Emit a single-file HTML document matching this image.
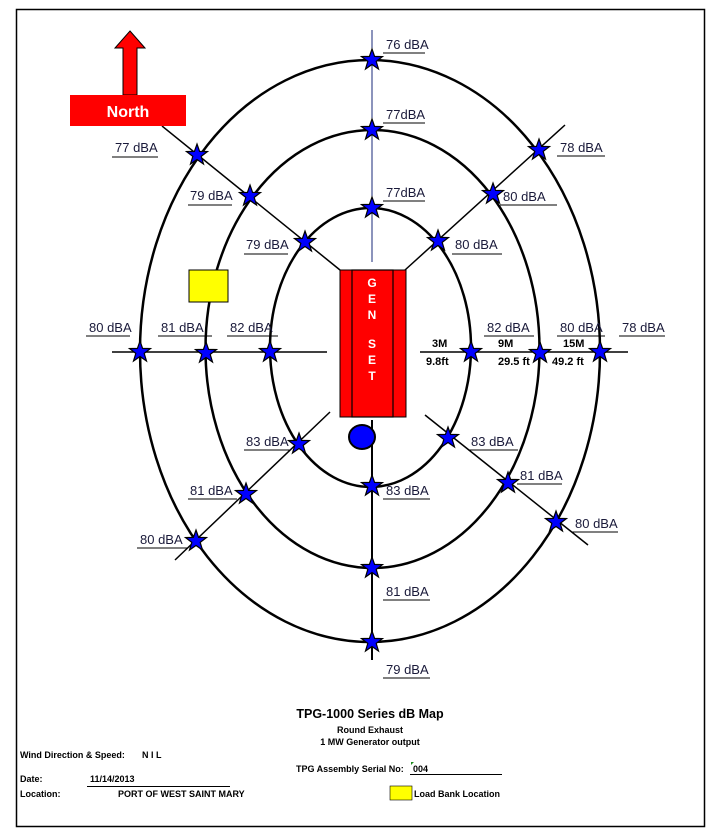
<!DOCTYPE html>
<html><head><meta charset="utf-8"><style>
html,body{margin:0;padding:0;background:#fff}
svg{display:block}
text{font-family:"Liberation Sans",sans-serif}
.l{font-size:13px;fill:#1a1a3a}
.b{font-weight:bold;font-size:11px;fill:#000}
.s{font-weight:bold;font-size:9px;fill:#000}
</style></head><body>
<svg width="722" height="839" viewBox="0 0 722 839" xmlns="http://www.w3.org/2000/svg">
<defs>
<polygon id="st" points="0,-11 2.6,-3.6 10.5,-3.4 4.2,1.4 6.5,9 0,4.5 -6.5,9 -4.2,1.4 -10.5,-3.4 -2.6,-3.6" fill="#0000ff" stroke="#000" stroke-width="1.2"/>
</defs>
<rect x="16.5" y="9.5" width="688" height="817" fill="none" stroke="#000" stroke-width="1.5"/>
<!-- lines -->
<line x1="372" y1="30" x2="372" y2="262" stroke="#1a2a7a" stroke-width="1"/>
<line x1="372" y1="420" x2="372" y2="660" stroke="#000" stroke-width="2"/>
<line x1="112" y1="352" x2="327" y2="352" stroke="#000" stroke-width="1.5"/>
<line x1="420" y1="352" x2="628" y2="352" stroke="#000" stroke-width="1.5"/>
<line x1="162" y1="126" x2="340" y2="270" stroke="#000" stroke-width="1.5"/>
<line x1="565" y1="125" x2="405" y2="270" stroke="#000" stroke-width="1.5"/>
<line x1="330" y1="412" x2="175" y2="560" stroke="#000" stroke-width="1.5"/>
<line x1="425" y1="415" x2="588" y2="545" stroke="#000" stroke-width="1.5"/>
<!-- ellipses -->
<ellipse cx="370" cy="351" rx="230" ry="291" fill="none" stroke="#000" stroke-width="2.5"/>
<ellipse cx="372.5" cy="349" rx="167" ry="219" fill="none" stroke="#000" stroke-width="2.5"/>
<ellipse cx="370.5" cy="347.5" rx="100.5" ry="139.5" fill="none" stroke="#000" stroke-width="2.5"/>
<!-- gen set -->
<rect x="340" y="270" width="66" height="147" fill="#ff0000" stroke="#000" stroke-width="1"/>
<rect x="352" y="270" width="41" height="147" fill="#ff0000" stroke="#000" stroke-width="1.2"/>
<g fill="#fff" font-weight="bold" font-size="12" text-anchor="middle">
<text x="372" y="287">G</text><text x="372" y="303">E</text><text x="372" y="319">N</text>
<text x="372" y="348">S</text><text x="372" y="364">E</text><text x="372" y="380">T</text>
</g>
<ellipse cx="362" cy="437" rx="13" ry="12" fill="#0000ff" stroke="#000" stroke-width="2"/>
<rect x="189" y="270" width="39" height="32" fill="#ffff00" stroke="#000" stroke-width="1"/>
<!-- north -->
<polygon points="130,31 145,48 137,48 137,95 123,95 123,48 115,48" fill="#ff0000" stroke="#000" stroke-width="1"/>
<rect x="70" y="95" width="116" height="31" fill="#ff0000"/>
<text x="128" y="117" fill="#fff" font-weight="bold" font-size="16" text-anchor="middle">North</text>
<!-- stars -->
<g>
<use href="#st" x="372" y="60"/><use href="#st" x="372" y="130"/><use href="#st" x="372" y="208"/>
<use href="#st" x="197" y="155"/><use href="#st" x="250" y="196"/><use href="#st" x="305" y="242"/>
<use href="#st" x="539" y="150"/><use href="#st" x="493" y="194"/><use href="#st" x="438" y="241"/>
<use href="#st" x="140" y="352"/><use href="#st" x="206" y="353"/><use href="#st" x="270" y="352"/>
<use href="#st" x="471" y="352"/><use href="#st" x="540" y="353"/><use href="#st" x="600" y="352"/>
<use href="#st" x="299" y="444"/><use href="#st" x="246" y="494"/><use href="#st" x="196" y="541"/>
<use href="#st" x="448" y="438"/><use href="#st" x="508" y="483"/><use href="#st" x="556" y="522"/>
<use href="#st" x="372" y="486"/><use href="#st" x="372" y="568"/><use href="#st" x="372" y="642"/>
</g>
<!-- labels -->
<g class="l">
<text x="386" y="49">76 dBA</text>
<text x="386" y="119">77dBA</text>
<text x="386" y="197">77dBA</text>
<text x="115" y="152">77 dBA</text>
<text x="190" y="200">79 dBA</text>
<text x="246" y="249">79 dBA</text>
<text x="560" y="152">78 dBA</text>
<text x="503" y="201">80 dBA</text>
<text x="455" y="249">80 dBA</text>
<text x="89" y="332">80 dBA</text>
<text x="161" y="332">81 dBA</text>
<text x="230" y="332">82 dBA</text>
<text x="487" y="332">82 dBA</text>
<text x="560" y="332">80 dBA</text>
<text x="622" y="332">78 dBA</text>
<text x="246" y="446">83 dBA</text>
<text x="471" y="446">83 dBA</text>
<text x="190" y="495">81 dBA</text>
<text x="386" y="495">83 dBA</text>
<text x="520" y="480">81 dBA</text>
<text x="140" y="544">80 dBA</text>
<text x="575" y="528">80 dBA</text>
<text x="386" y="596">81 dBA</text>
<text x="386" y="674">79 dBA</text>
</g>
<g stroke="#000" stroke-width="1">
<line x1="383" y1="53" x2="425" y2="53"/>
<line x1="383" y1="123" x2="425" y2="123"/>
<line x1="383" y1="201" x2="425" y2="201"/>
<line x1="112" y1="157" x2="158" y2="157"/>
<line x1="188" y1="205" x2="232" y2="205"/>
<line x1="244" y1="254" x2="288" y2="254"/>
<line x1="557" y1="156" x2="605" y2="156"/>
<line x1="500" y1="205" x2="557" y2="205"/>
<line x1="452" y1="254" x2="502" y2="254"/>
<line x1="86" y1="336" x2="130" y2="336"/>
<line x1="158" y1="336" x2="212" y2="336"/>
<line x1="227" y1="336" x2="278" y2="336"/>
<line x1="484" y1="336" x2="534" y2="336"/>
<line x1="557" y1="336" x2="605" y2="336"/>
<line x1="619" y1="336" x2="665" y2="336"/>
<line x1="244" y1="450" x2="290" y2="450"/>
<line x1="468" y1="450" x2="518" y2="450"/>
<line x1="188" y1="499" x2="237" y2="499"/>
<line x1="383" y1="499" x2="430" y2="499"/>
<line x1="517" y1="484" x2="562" y2="484"/>
<line x1="137" y1="548" x2="188" y2="548"/>
<line x1="572" y1="532" x2="618" y2="532"/>
<line x1="383" y1="600" x2="430" y2="600"/>
<line x1="383" y1="678" x2="430" y2="678"/>
</g>
<g class="b">
<text x="432" y="347">3M</text><text x="426" y="365">9.8ft</text>
<text x="498" y="347">9M</text><text x="498" y="365">29.5 ft</text>
<text x="563" y="347">15M</text><text x="552" y="365">49.2 ft</text>
</g>
<!-- footer -->
<text x="370" y="718" font-weight="bold" font-size="12.5" text-anchor="middle">TPG-1000 Series dB Map</text>
<text x="370" y="733" class="s" text-anchor="middle">Round Exhaust</text>
<text x="370" y="745" class="s" text-anchor="middle">1 MW Generator output</text>
<text x="20" y="758" class="s">Wind Direction &amp; Speed:</text>
<text x="142" y="758" class="s">N I L</text>
<text x="296" y="772" class="s">TPG Assembly Serial No:</text>
<text x="413" y="772" class="s">004</text>
<polygon points="411,762 414,762 411,765" fill="#1a8a1a"/>
<line x1="410" y1="774.5" x2="502" y2="774.5" stroke="#000"/>
<text x="20" y="782" class="s">Date:</text>
<text x="90" y="782" class="s">11/14/2013</text>
<line x1="87" y1="786.5" x2="230" y2="786.5" stroke="#000"/>
<text x="20" y="797" class="s">Location:</text>
<text x="118" y="797" class="s">PORT OF WEST SAINT MARY</text>
<rect x="390" y="786" width="22" height="14" fill="#ffff00" stroke="#000" stroke-width="0.6"/>
<text x="414" y="797" class="s">Load Bank Location</text>
</svg>
</body></html>
